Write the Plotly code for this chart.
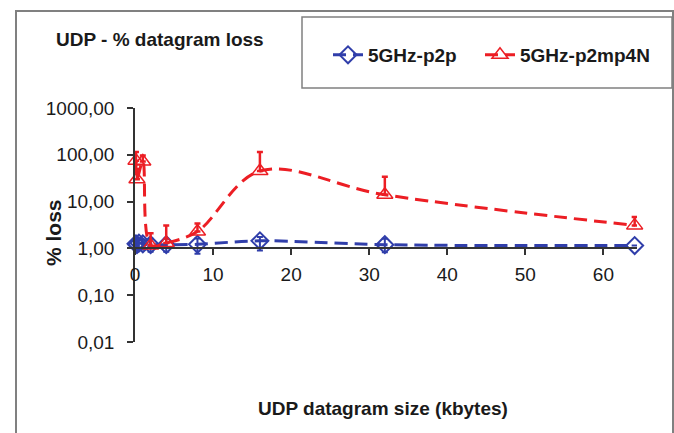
import plotly.graph_objects as go

# ---- data ----
p2p_x = [0.125, 0.25, 0.5, 1, 2, 4, 8, 16, 32, 64]
p2p_y = [1.25, 1.2, 1.3, 1.25, 1.2, 1.2, 1.22, 1.45, 1.2, 1.15]
p2p_err_plus = [0.3, 0.3, 0.3, 0.3, 0.4, 0.4, 0.4, 0.3, 0.4, 0.0]
p2p_err_minus = [0.3, 0.3, 0.3, 0.3, 0.35, 0.35, 0.45, 0.55, 0.37, 0.0]

p2mp_x = [0.125, 0.25, 1, 2, 4, 8, 16, 32, 64]
p2mp_y = [75, 30, 72, 1.15, 1.3, 2.3, 45, 14, 3.1]
p2mp_err_plus = [40, 20, 25, 0.95, 1.8, 1.1, 70, 20, 1.6]

y_tickvals = [0.01, 0.1, 1, 10, 100, 1000]
y_ticktext = ["0,01", "0,10", "1,00", "10,00", "100,00", "1000,00"]
x_tickvals = [0, 10, 20, 30, 40, 50, 60]

BLUE = "rgb(48,62,170)"
RED = "rgb(236,30,36)"
FONT = "Liberation Sans, Arial, sans-serif"
W, H = 674, 433
L, R, T, B = 135, 37, 108, 91
PW, PH = W - L - R, H - T - B


def px2paper_x(px):
    return (px - L) / PW


def px2paper_y(py):
    return (H - B - py) / PH


fig = go.Figure()
fig.add_trace(go.Scatter(
    x=p2p_x, y=p2p_y, name="5GHz-p2p", mode="lines+markers", legend="legend",
    line=dict(color=BLUE, width=3, dash="13px,7px", shape="spline"),
    marker=dict(symbol="diamond-open", size=13, color=BLUE, line=dict(width=2, color=BLUE)),
    error_y=dict(type="data", symmetric=False, array=p2p_err_plus, arrayminus=p2p_err_minus,
                 color=BLUE, thickness=2, width=3),
    cliponaxis=False,
))
fig.add_trace(go.Scatter(
    x=p2mp_x, y=p2mp_y, name="5GHz-p2mp4N", mode="lines+markers", legend="legend2",
    line=dict(color=RED, width=3, dash="13px,7px", shape="spline"),
    marker=dict(symbol="triangle-up-open", size=14, color=RED, line=dict(width=1.5, color=RED)),
    error_y=dict(type="data", symmetric=False, array=p2mp_err_plus,
                 arrayminus=[0] * len(p2mp_err_plus), color=RED, thickness=2.5, width=3),
    cliponaxis=False,
))

legend_common = dict(orientation="h", xanchor="left", y=px2paper_y(55), yanchor="middle",
                     bgcolor="rgba(0,0,0,0)",
                     font=dict(family=FONT, size=19, color="#1a1a1a", weight="bold"))

fig.update_layout(
    width=W, height=H,
    margin=dict(l=L, r=R, t=T, b=B, autoexpand=False),
    paper_bgcolor="white", plot_bgcolor="white",
    font=dict(family=FONT, size=19, color="#1a1a1a"),
    title=dict(text="UDP - % datagram loss", xref="container", yref="container",
               x=56 / W, xanchor="left", y=1 - 39 / H, yanchor="middle",
               font=dict(family=FONT, size=19, color="#1a1a1a", weight="bold")),
    xaxis=dict(range=[0, 64.3], tickvals=x_tickvals, showline=True, linecolor="#333",
               linewidth=1.5, ticks="outside", ticklen=6, tickcolor="#333", tickwidth=1.5,
               showgrid=False, zeroline=False, anchor="free", position=0.4,
               tickfont=dict(size=19), ticklabelstandoff=3),
    yaxis=dict(type="log", range=[-2, 3], tickvals=y_tickvals, ticktext=y_ticktext,
               showline=True, linecolor="#333", linewidth=1.5, ticks="outside", ticklen=6,
               tickcolor="#333", tickwidth=1.5, showgrid=False, zeroline=False,
               tickfont=dict(size=19), ticklabelstandoff=9),
    legend=dict(x=px2paper_x(328), **legend_common),
    legend2=dict(x=px2paper_x(480), **legend_common),
    showlegend=True,
    shapes=[
        dict(type="rect", xref="paper", yref="paper",
             x0=px2paper_x(16), x1=px2paper_x(673), y0=px2paper_y(460), y1=px2paper_y(11),
             line=dict(color="#808080", width=2), fillcolor="rgba(0,0,0,0)", layer="below"),
        dict(type="rect", xref="paper", yref="paper",
             x0=px2paper_x(302), x1=px2paper_x(672), y0=px2paper_y(88), y1=px2paper_y(17),
             line=dict(color="#808080", width=1.5), fillcolor="rgba(0,0,0,0)", layer="below"),
    ],
    annotations=[
        dict(text="<b>UDP datagram size (kbytes)</b>", xref="paper", yref="paper",
             x=px2paper_x(383), y=px2paper_y(408), xanchor="center", yanchor="middle",
             showarrow=False, font=dict(family=FONT, size=19, color="#1a1a1a")),
        dict(text="<b>% loss</b>", xref="paper", yref="paper", textangle=-90,
             x=px2paper_x(53), y=px2paper_y(233), xanchor="center", yanchor="middle",
             showarrow=False, font=dict(family=FONT, size=21, color="#1a1a1a")),
    ],
)

fig.write_html("out.html", config={"displayModeBar": False},
               post_script="document.body.style.margin='0';document.body.style.overflow='hidden';")
